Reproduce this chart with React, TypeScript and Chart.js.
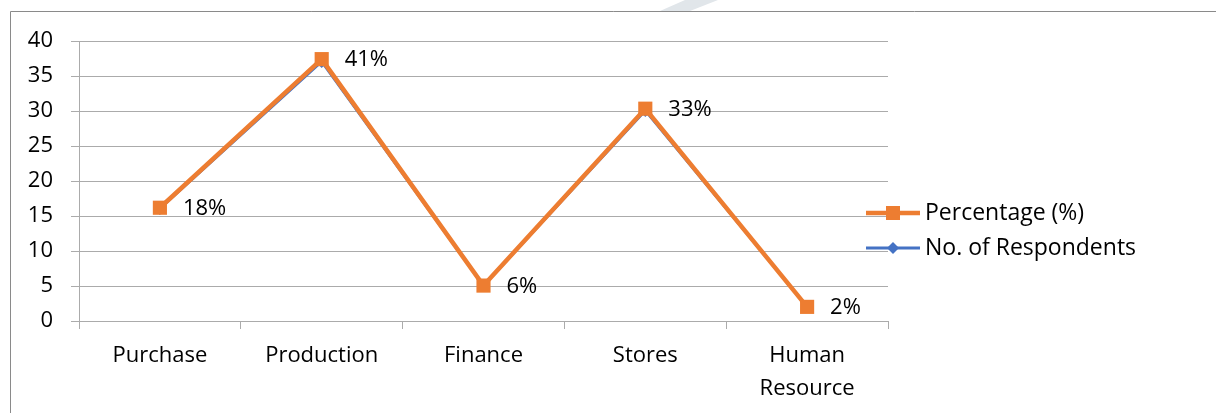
import React, { useEffect, useRef } from 'react';
import { Chart, registerables } from 'chart.js';

Chart.register(...registerables);

// ---- data ----
const categories: (string | string[])[] = ['Purchase', 'Production', 'Finance', 'Stores', ['Human', 'Resource']];
const respondents = [16, 37, 5, 30, 2];
const percentages = [0.18, 0.41, 0.06, 0.33, 0.02];
const yMin = 0;
const yMax = 40;
const yStep = 5;
const seriesNames = ['Percentage (%)', 'No. of Respondents'];

// Excel "stacked line": percentage series sits on top of the respondents series
const percentageStacked = respondents.map((v, i) => v + percentages[i]);

const FONT = '"Open Sans", "Noto Sans", sans-serif';
const FONT_SIZE = 22;
const LEGEND_FONT_SIZE = 23;
const ORANGE = '#ED7D31';
const BLUE = '#4472C4';
const GRID = '#ababab';
const TEXT = '#000000';

const framePlugin = {
  id: 'frame',
  beforeDraw(chart: any) {
    const { ctx, width, height } = chart;
    ctx.save();
    // faint watermark fragment at the top
    ctx.fillStyle = '#e1e6ea';
    ctx.beginPath();
    ctx.moveTo(685, 0);
    ctx.lineTo(718, 0);
    ctx.lineTo(690, 11);
    ctx.lineTo(660, 11);
    ctx.closePath();
    ctx.fill();
    // chart frame (cut at right/bottom)
    ctx.strokeStyle = '#8a8a8a';
    ctx.lineWidth = 1;
    ctx.beginPath();
    ctx.moveTo(10.5, height);
    ctx.lineTo(10.5, 11.5);
    ctx.lineTo(width, 11.5);
    ctx.stroke();
    ctx.restore();
  },
};

const dataLabelPlugin = {
  id: 'pctLabels',
  afterDatasetsDraw(chart: any) {
    const { ctx } = chart;
    const meta = chart.getDatasetMeta(0);
    ctx.save();
    ctx.font = `${FONT_SIZE}px ${FONT}`;
    ctx.fillStyle = TEXT;
    ctx.textAlign = 'left';
    ctx.textBaseline = 'middle';
    meta.data.forEach((pt: any, i: number) => {
      ctx.fillText(`${Math.round(percentages[i] * 100)}%`, pt.x + 23, pt.y + 1);
    });
    ctx.restore();
  },
};

const legendPlugin = {
  id: 'customLegend',
  afterDraw(chart: any) {
    const { ctx } = chart;
    const rows = [213, 248];
    ctx.save();
    chart.data.datasets.forEach((ds: any, i: number) => {
      const y = rows[i];
      ctx.strokeStyle = ds.borderColor;
      ctx.lineWidth = i === 0 ? 4.5 : 3;
      ctx.beginPath();
      ctx.moveTo(866, y);
      ctx.lineTo(920, y);
      ctx.stroke();
      ctx.fillStyle = ds.borderColor;
      ctx.beginPath();
      if (i === 0) {
        ctx.rect(886, y - 7, 14, 14);
      } else {
        ctx.moveTo(893, y - 6);
        ctx.lineTo(899, y);
        ctx.lineTo(893, y + 6);
        ctx.lineTo(887, y);
        ctx.closePath();
      }
      ctx.fill();
      ctx.font = `${LEGEND_FONT_SIZE}px ${FONT}`;
      ctx.fillStyle = TEXT;
      ctx.textAlign = 'left';
      ctx.textBaseline = 'middle';
      ctx.fillText(ds.label, 925, y);
    });
    ctx.restore();
  },
};

export default function App() {
  const canvasRef = useRef<HTMLCanvasElement | null>(null);

  useEffect(() => {
    if (!canvasRef.current) return;
    const chart = new Chart(canvasRef.current, {
      type: 'line',
      data: {
        labels: categories as any,
        datasets: [
          {
            label: seriesNames[0],
            data: percentageStacked,
            borderColor: ORANGE,
            backgroundColor: ORANGE,
            borderWidth: 4.5,
            pointStyle: 'rect',
            pointRadius: 10,
            pointBorderWidth: 0,
            borderJoinStyle: 'round',
            tension: 0,
          },
          {
            label: seriesNames[1],
            data: respondents,
            borderColor: BLUE,
            backgroundColor: BLUE,
            borderWidth: 2.25,
            pointStyle: 'rectRot',
            pointRadius: 6,
            pointBorderWidth: 0,
            borderJoinStyle: 'round',
            tension: 0,
          },
        ],
      },
      options: {
        animation: false,
        responsive: false,
        devicePixelRatio: 1,
        layout: { padding: { left: 0, right: 328, top: 41, bottom: 0 } },
        plugins: {
          legend: { display: false },
          tooltip: { enabled: false },
          title: { display: false },
        },
        scales: {
          x: {
            type: 'category',
            offset: true,
            grid: {
              offset: true,
              drawOnChartArea: false,
              drawTicks: true,
              tickLength: 8,
              color: GRID,
            },
            border: { display: true, color: GRID },
            ticks: {
              color: TEXT,
              font: { family: FONT, size: FONT_SIZE, lineHeight: 1.5 },
              padding: 10,
              maxRotation: 0,
              autoSkip: false,
            },
            afterFit: (s: any) => {
              s.height = 92;
            },
          },
          y: {
            min: yMin,
            max: yMax,
            ticks: {
              stepSize: yStep,
              color: TEXT,
              font: { family: FONT, size: FONT_SIZE },
              padding: 18,
            },
            grid: { color: GRID, tickLength: 8, drawTicks: true },
            border: { display: true, color: GRID },
            afterFit: (s: any) => {
              s.width = 79;
            },
          },
        },
      },
      plugins: [framePlugin, dataLabelPlugin, legendPlugin],
    });
    return () => chart.destroy();
  }, []);

  return (
    <div style={{ position: 'absolute', left: 0, top: 0, width: 1216, height: 413, background: '#fff' }}>
      <canvas ref={canvasRef} width={1216} height={413} style={{ display: 'block' }} />
    </div>
  );
}
